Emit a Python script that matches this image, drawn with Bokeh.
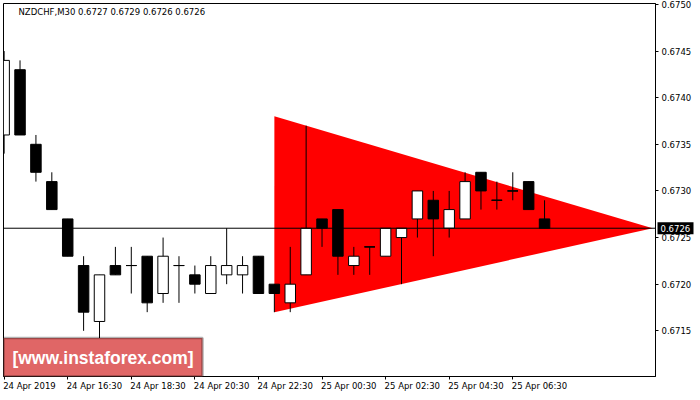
from bokeh.plotting import figure
from bokeh.models import Range1d, FixedTicker, PrintfTickFormatter, Span, Label, BoxAnnotation, ColumnDataSource
from bokeh.core.properties import value
from bokeh.embed import file_html
from bokeh.resources import INLINE

# ---------------- data ----------------
chart_title = "NZDCHF,M30  0.6727 0.6729 0.6726 0.6726"
watermark = "[www.instaforex.com]"

opens = [0.6736, 0.6743, 0.6735, 0.6731, 0.6727, 0.6722, 0.6716, 0.6722, 0.6722, 0.6723,
         0.6719, 0.6722, 0.6721, 0.6719, 0.6721, 0.6721, 0.6723, 0.6720, 0.6718, 0.6721,
         0.6727, 0.6728, 0.6722, 0.6724, 0.6723, 0.6725, 0.6727, 0.6729, 0.6726, 0.6727,
         0.6732, 0.6729, 0.6730, 0.6731, 0.6727]
highs = [0.6745, 0.6744, 0.6736, 0.6732, 0.6727, 0.6723, 0.6721, 0.6724, 0.6724, 0.6723,
         0.6725, 0.6723, 0.6722, 0.6723, 0.6726, 0.6723, 0.6723, 0.6720, 0.6724, 0.6737,
         0.6727, 0.6728, 0.6724, 0.6724, 0.6726, 0.6726, 0.6730, 0.6730, 0.6730, 0.6732,
         0.6732, 0.6731, 0.6732, 0.6731, 0.6729]
lows = [0.6734, 0.6736, 0.6731, 0.6728, 0.6723, 0.6715, 0.6714, 0.6721, 0.6719, 0.6717,
        0.6718, 0.6718, 0.6719, 0.6719, 0.6720, 0.6719, 0.6719, 0.6717, 0.6717, 0.6721,
        0.6724, 0.6721, 0.6721, 0.6721, 0.6723, 0.6720, 0.6725, 0.6723, 0.6725, 0.6727,
        0.6728, 0.6728, 0.6729, 0.6728, 0.6726]
closes = [0.6744, 0.6736, 0.6732, 0.6728, 0.6723, 0.6717, 0.6721, 0.6721, 0.6722, 0.6718,
          0.6723, 0.6722, 0.6720, 0.6722, 0.6722, 0.6722, 0.6719, 0.6719, 0.6720, 0.6726,
          0.6726, 0.6723, 0.6723, 0.6724, 0.6726, 0.6726, 0.6730, 0.6727, 0.6728, 0.6731,
          0.6730, 0.6729, 0.6730, 0.6728, 0.6726]

x_tick_bars = [0, 4, 8, 12, 16, 20, 24, 28, 32]
x_tick_labels = ["24 Apr 2019", "24 Apr 16:30", "24 Apr 18:30", "24 Apr 20:30", "24 Apr 22:30",
                 "25 Apr 00:30", "25 Apr 02:30", "25 Apr 04:30", "25 Apr 06:30"]
y_ticks = [0.6715, 0.6720, 0.6725, 0.6730, 0.6735, 0.6740, 0.6745, 0.6750]
current_price = 0.6726

# triangle pattern: two left corners and the apex
tri_bars = [17, 17, 40.8]
tri_prices = [0.6738, 0.6717, 0.6726]

# ---------------- figure ----------------
FONT = "DejaVu Sans"
FSIZE = "8.5px"
bars = list(range(len(opens)))
body_w = 0.66
X0, X1 = -0.04, 40.98
Y0, Y1 = 0.67101, 0.67501
FRAME_W, FRAME_H = 652, 373
ppb = FRAME_W / (X1 - X0)  # pixels per bar

p = figure(frame_width=FRAME_W, frame_height=FRAME_H, output_backend="svg", toolbar_location=None,
           x_range=Range1d(X0, X1), y_range=Range1d(Y0, Y1),
           y_axis_location="right",
           min_border_left=3, min_border_top=3, min_border_right=37, min_border_bottom=16)
p.background_fill_color = "white"
p.border_fill_color = "white"
p.outline_line_color = "black"
p.outline_line_alpha = 1
p.outline_line_width = 1
p.grid.visible = False

# x axis: ticks only, labels drawn left-aligned below
xa = p.xaxis[0]
xa.ticker = FixedTicker(ticks=x_tick_bars)
xa.major_label_text_color = None
xa.major_label_text_font_size = "1px"
xa.major_label_standoff = 0
xa.axis_line_color = "black"
xa.major_tick_line_color = "black"
xa.major_tick_out = 3
xa.major_tick_in = 0
xa.minor_tick_line_color = None

ya = p.yaxis[0]
ya.ticker = FixedTicker(ticks=y_ticks)
ya.formatter = PrintfTickFormatter(format="%.4f")
ya.axis_line_color = "black"
ya.major_tick_line_color = "black"
ya.major_tick_out = 3
ya.major_tick_in = 0
ya.minor_tick_line_color = None
ya.major_label_standoff = 3
ya.major_label_text_font = FONT
ya.major_label_text_font_size = FSIZE
ya.major_label_text_color = "black"

# triangle
p.patch(tri_bars, tri_prices, fill_color="#FF0000", line_color=None)

# current price line
p.add_layout(Span(location=current_price, dimension="width", line_color="black", line_width=1))

# candles
tops = [max(o, c) for o, c in zip(opens, closes)]
bottoms = [min(o, c) for o, c in zip(opens, closes)]
fills = ["white" if c > o else "black" for o, c in zip(opens, closes)]
src = ColumnDataSource(dict(x=bars, high=highs, low=lows, top=tops, bottom=bottoms, fill=fills))
p.segment(x0="x", y0="high", x1="x", y1="low", source=src, line_color="black", line_width=1)
p.vbar(x="x", top="top", bottom="bottom", width=body_w, source=src,
       fill_color="fill", line_color="black", line_width=1)

doji = [i for i in bars if opens[i] == closes[i]]
p.segment(x0=[i - body_w / 2 for i in doji], y0=[opens[i] for i in doji],
          x1=[i + body_w / 2 for i in doji], y1=[opens[i] for i in doji],
          line_color="black", line_width=1)

# x tick labels, left aligned at the tick (overlay level: drawn outside the frame)
p.text(x=x_tick_bars, y=[Y0] * len(x_tick_bars), text=x_tick_labels,
       x_offset=-1, y_offset=4, text_align="left", text_baseline="top",
       text_font=value(FONT), text_font_size=value(FSIZE), text_color="black",
       level="overlay")

# title text inside chart
p.add_layout(Label(x=X0, y=Y1, x_offset=15, y_offset=-3, text=chart_title,
                   text_align="left", text_baseline="top", text_font=FONT,
                   text_font_size=FSIZE, text_color="black"))

# current price tag on the axis
p.rect(x=[X1 + 20 / ppb], y=[current_price], width=36, height=12,
       width_units="screen", height_units="screen",
       fill_color="black", line_color=None, level="overlay")
p.text(x=[X1], y=[current_price], text=["%.4f" % current_price], x_offset=5,
       text_align="left", text_baseline="middle",
       text_font=value(FONT), text_font_size=value(FSIZE), text_color="white",
       level="overlay")

# watermark box
p.add_layout(BoxAnnotation(left=0, right=199, bottom=0, top=38.5,
                           left_units="screen", right_units="screen",
                           bottom_units="screen", top_units="screen",
                           fill_color="#E06666", fill_alpha=1,
                           line_color="black", line_width=2.5, level="overlay"))
p.add_layout(Label(x=99.5, y=19, x_units="screen", y_units="screen", text=watermark,
                   text_align="center", text_baseline="middle",
                   text_font="Liberation Sans",
                   text_font_style="bold", text_font_size="17.5px", text_color="white",
                   level="overlay"))

open("out.html", "w").write(file_html(p, INLINE))
